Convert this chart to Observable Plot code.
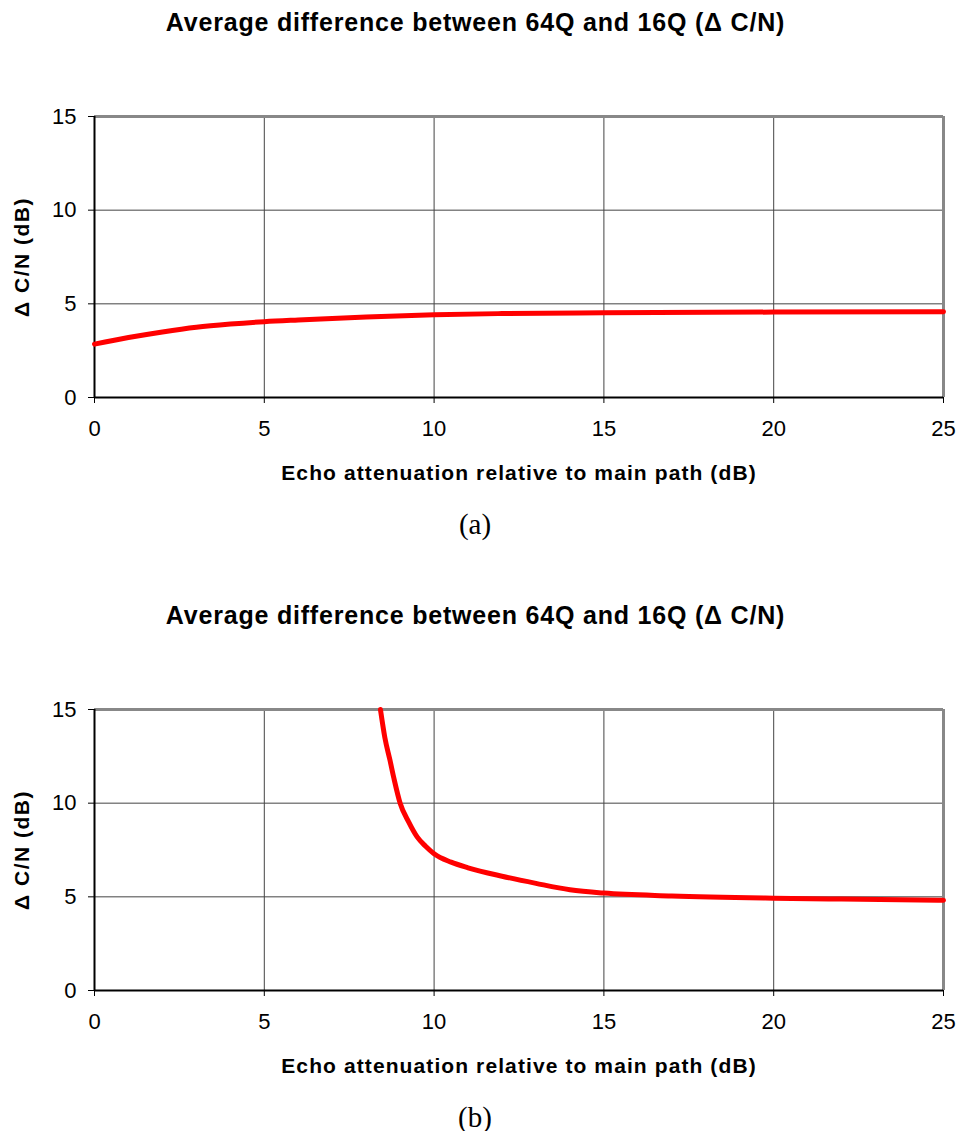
<!DOCTYPE html>
<html>
<head>
<meta charset="utf-8">
<script src="https://cdn.jsdelivr.net/npm/d3@7"></script>
<script src="https://cdn.jsdelivr.net/npm/@observablehq/plot@0.6"></script>
<style>
  html, body { margin: 0; padding: 0; background: #fff; }
  #page { position: relative; width: 959px; height: 1131px; font-family: "Liberation Sans", Arial, sans-serif; }
  .title { position: absolute; left: 0; width: 951px; text-align: center; font-weight: bold; font-size: 25px; line-height: 30px; letter-spacing: 0.8px; color: #000; }
  .caption { position: absolute; left: 0; width: 950px; text-align: center; font-family: "Liberation Serif", "Times New Roman", serif; font-size: 29px; line-height: 32px; color: #000; }
  .chart { position: absolute; left: 0; }
  .chart svg { font-family: "Liberation Sans", Arial, sans-serif; }
  .chart [aria-label="x-axis label"] text { font-weight: bold; font-size: 21px; letter-spacing: 1.1px; }
  .chart [aria-label="y-axis label"] text { font-weight: bold; font-size: 21px; letter-spacing: 1.5px; }
  .chart [aria-label="x-axis tick label"] text, .chart [aria-label="y-axis tick label"] text { font-size: 22px; }
</style>
</head>
<body>
<div id="page"></div>
<script>
// ---- data ----
const titleText = "Average difference between 64Q and 16Q (\u0394 C/N)";
const xLabel = "Echo attenuation relative to main path (dB)";
const yLabel = "\u0394 C/N (dB)";
const xTicks = [0, 5, 10, 15, 20, 25];
const yTicks = [0, 5, 10, 15];

// Chart (a)
const xA = [0, 1, 2, 3, 4, 5, 6, 7, 8, 10, 12, 15, 20, 25];
const yA = [2.85, 3.2, 3.5, 3.75, 3.92, 4.05, 4.14, 4.22, 4.3, 4.42, 4.48, 4.52, 4.56, 4.58];

// Chart (b)
const xB = [8.42, 8.55, 8.7, 8.82, 9.0, 9.25, 9.5, 9.75, 10, 10.5, 11, 12, 13, 14, 15, 17, 20, 22, 25];
const yB = [15, 13.5, 12.3, 11.3, 10, 9.0, 8.2, 7.7, 7.3, 6.85, 6.55, 6.1, 5.72, 5.38, 5.2, 5.05, 4.93, 4.88, 4.82];

const charts = [
  {xs: xA, ys: yA, caption: "(a)", top: 0},
  {xs: xB, ys: yB, caption: "(b)", top: 593}
];

const page = document.getElementById("page");

for (const c of charts) {
  const data = c.xs.map((x, i) => ({x, y: c.ys[i]}));

  const t = document.createElement("div");
  t.className = "title";
  t.style.top = (c.top + 7) + "px";
  t.textContent = titleText;
  page.appendChild(t);

  const plot = Plot.plot({
    width: 959,
    height: 442,
    marginTop: 66,
    marginBottom: 95,
    marginLeft: 94,
    marginRight: 16,
    style: {fontSize: "21px", color: "#000", background: "transparent"},
    x: {domain: [0, 25]},
    y: {domain: [0, 15]},
    marks: [
      Plot.gridX(xTicks, {stroke: "#444", strokeOpacity: 1, strokeWidth: 1}),
      Plot.gridY(yTicks, {stroke: "#444", strokeOpacity: 1, strokeWidth: 1}),
      Plot.ruleY([15], {stroke: "#888", strokeWidth: 3}),
      Plot.ruleX([25], {stroke: "#888", strokeWidth: 3}),
      Plot.ruleY([0], {stroke: "#000", strokeWidth: 2}),
      Plot.ruleX([0], {stroke: "#000", strokeWidth: 2}),
      Plot.line(data, {x: "x", y: "y", stroke: "#ff0000", strokeWidth: 5, curve: "monotone-x"}),
      Plot.axisX(xTicks, {tickSize: 6, tickPadding: 17, label: xLabel, labelAnchor: "center", labelArrow: "none", labelOffset: 82, fontSize: 22}),
      Plot.axisY(yTicks, {tickSize: 6, tickPadding: 12, label: yLabel, labelAnchor: "center", labelArrow: "none", labelOffset: 80, fontSize: 22})
    ]
  });
  const wrap = document.createElement("div");
  wrap.className = "chart";
  wrap.style.top = (c.top + 50) + "px";
  wrap.appendChild(plot);
  page.appendChild(wrap);

  const cap = document.createElement("div");
  cap.className = "caption";
  cap.style.top = (c.top + 508) + "px";
  cap.textContent = c.caption;
  page.appendChild(cap);
}
</script>
</body>
</html>
